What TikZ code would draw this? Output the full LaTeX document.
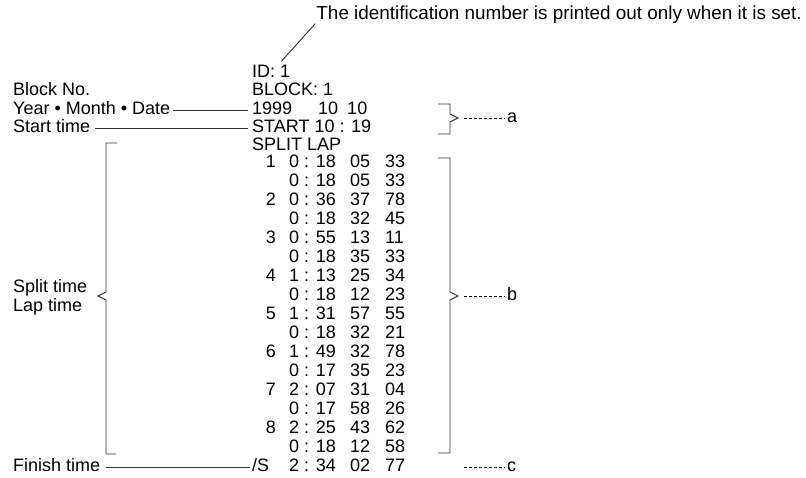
\documentclass[tikz,border=0pt]{standalone}
\usepackage{fontspec}
\setmainfont{Liberation Sans}
\usetikzlibrary{calc}

\tikzset{
  txt/.style={inner sep=0pt, anchor=west, text height=13pt, text depth=4pt,
    font=\fontsize{18}{19}\selectfont},
  conn/.style={draw=black!80, line width=0.9pt},
  lead/.style={draw=black, line width=0.9pt, dash pattern=on 2.5pt off 2.5pt},
  brk/.style={draw=black!80, line width=0.9pt},
}

\begin{document}
\begin{tikzpicture}[x=1pt,y=-1pt]
\useasboundingbox (0,0) rectangle (806,478);

% note on the ID line
\node[txt, anchor=east, font=\fontsize{18.9}{20}\selectfont] (note) at (802,15)
  {The identification number is printed out only when it is set.};

% printout header
\node[txt] (id) at (252,73) {ID: 1};
\node[txt] (blk) at (252,91) {BLOCK: 1};
\node[txt] (date) at (252,110) {1999\hspace{26pt}10\hspace{9pt}10};
\node[txt] (start) at (252,128) {START 10 : 19};
\node[txt] (hdr) at (252,146) {SPLIT\hspace{5pt}LAP};

% split / lap rows
\foreach \i/\n/\t/\ma/\mb in {0/1/0 : 18/05/33, 1//0 : 18/05/33, 2/2/0 : 36/37/78,
    3//0 : 18/32/45, 4/3/0 : 55/13/11, 5//0 : 18/35/33, 6/4/1 : 13/25/34,
    7//0 : 18/12/23, 8/5/1 : 31/57/55, 9//0 : 18/32/21, 10/6/1 : 49/32/78,
    11//0 : 17/35/23, 12/7/2 : 07/31/04, 13//0 : 17/58/26, 14/8/2 : 25/43/62,
    15//0 : 18/12/58, 16//2 : 34/02/77}{
  \node[txt, anchor=east] (n\i) at (276,{163+19*\i}) {\n};
  \node[txt] (t\i) at (289,{163+19*\i}) {\t};
  \node[txt] (a\i) at (350,{163+19*\i}) {\ma};
  \node[txt] (b\i) at (385,{163+19*\i}) {\mb};
}
\node[txt] (fin) at (252,467) {/S};

% labels on the left
\node[txt] (lblock) at (13,91) {Block No.};
\node[txt] (lymd) at (13,110) {Year • Month • Date};
\node[txt] (lstart) at (13,128) {Start time};
\node[txt] (lsplit) at (13,288) {Split time};
\node[txt] (llap) at (13,307) {Lap time};
\node[txt] (lfin) at (13,467) {Finish time};

\draw[conn] ([xshift=-9pt,yshift=3pt]id.north east) -- ([xshift=-1pt]note.south west);
\draw[conn] ([xshift=3pt]lymd.east) -- ([xshift=-4pt]date.west);
\draw[conn] ([xshift=5pt]lstart.east) -- ([xshift=-4pt]start.west);
\draw[conn] ([xshift=6pt]lfin.east) -- ([xshift=-2pt]fin.west);

% brackets
\draw[brk] (117,143) -- (106,143) -- (106,292) -- (98,296) -- (106,300) -- (106,454) -- (116,454);
\draw[brk] (438,104) -- (450,104) -- (450,114) -- (458,118) coordinate (tipa)
  -- (450,122) -- (450,134) -- (438,134);
\draw[brk] (438,158) -- (450,158) -- (450,292) -- (458,296) coordinate (tipb)
  -- (450,300) -- (450,453) -- (438,453);
\coordinate (tipc) at (458,467);

% a, b, c
\node[txt] (la) at (507,118) {a};
\node[txt] (lb) at (507,296) {b};
\node[txt] (lc) at (507,467) {c};
\draw[lead, shorten >=2pt] ([xshift=6pt]tipa) -- (la.west);
\draw[lead, shorten >=2pt] ([xshift=6pt]tipb) -- (lb.west);
\draw[lead, shorten >=2pt] ([xshift=6pt]tipc) -- (lc.west);

\end{tikzpicture}
\end{document}
